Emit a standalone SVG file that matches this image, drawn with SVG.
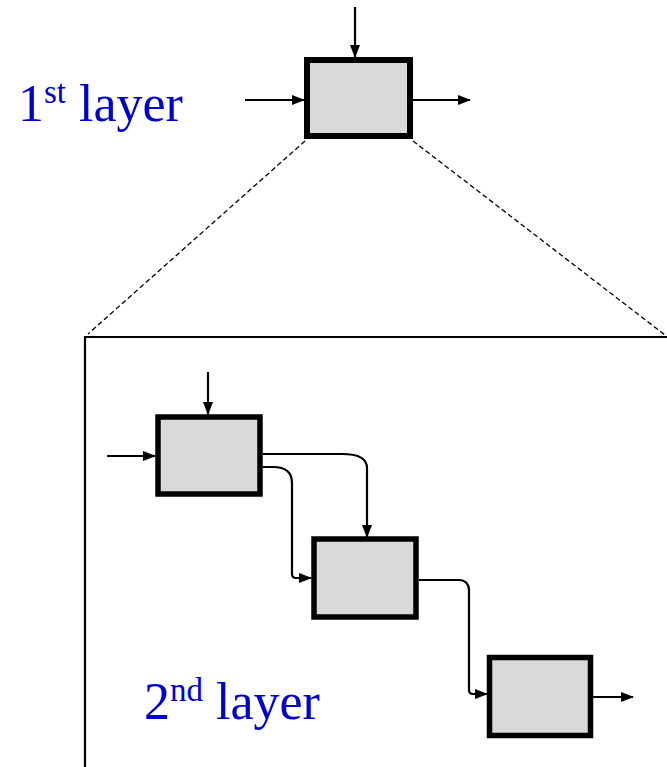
<svg xmlns="http://www.w3.org/2000/svg" width="667" height="767" viewBox="0 0 667 767">
<style>
.box{fill:#D9D9D9;stroke:#000;stroke-width:6}
.box2{fill:#D9D9D9;stroke:#000;stroke-width:5.5}
.ln{fill:none;stroke:#000;stroke-width:2.2}
.dash{fill:none;stroke:#000;stroke-width:1.3;stroke-dasharray:5,3}
.lbl{font-family:"Liberation Serif",serif;fill:#0000CC}
</style>
<defs>
<marker id="ah" markerUnits="userSpaceOnUse" markerWidth="13" markerHeight="10" refX="12" refY="5" orient="auto">
<path d="M0,0 L13,5 L0,10 z" fill="#000"/>
</marker>
</defs>
<g id="labels">
<text class="lbl" x="18" y="121" font-size="52">1<tspan font-size="33" dy="-18">st</tspan><tspan dy="18"> layer</tspan></text>
<text class="lbl" x="144" y="719" font-size="52">2<tspan font-size="33" dy="-18">nd</tspan><tspan dy="18"> layer</tspan></text>
</g>
<g id="frame">
<path class="ln" d="M85,767 V337 H667"/>
<line class="dash" x1="305" y1="141" x2="88" y2="334"/>
<line class="dash" x1="413" y1="141" x2="665" y2="335"/>
</g>
<g id="connectors">
<line class="ln" x1="355" y1="7" x2="355" y2="57" marker-end="url(#ah)"/>
<line class="ln" x1="245" y1="100" x2="304" y2="100" marker-end="url(#ah)"/>
<line class="ln" x1="413" y1="100" x2="470" y2="100" marker-end="url(#ah)"/>
<line class="ln" x1="208" y1="372" x2="208" y2="414" marker-end="url(#ah)"/>
<line class="ln" x1="107" y1="456" x2="155" y2="456" marker-end="url(#ah)"/>
<path class="ln" d="M263,454 H342 C358,454 367,458 367,468 V537" marker-end="url(#ah)"/>
<path class="ln" d="M263,467 H273 C285,467 292,472 292,483 V574 Q292,578 296,578 H311" marker-end="url(#ah)"/>
<path class="ln" d="M419,580 H459 C465,580 469,584 469,590 V690 Q469,694 473,694 H487" marker-end="url(#ah)"/>
<line class="ln" x1="593" y1="697" x2="633" y2="697" marker-end="url(#ah)"/>
</g>
<g id="top-box"><rect class="box" x="307" y="60" width="103" height="76"/></g>
<g id="box-1"><rect class="box2" x="158" y="417" width="102" height="77"/></g>
<g id="box-2"><rect class="box2" x="314" y="539" width="102" height="78"/></g>
<g id="box-3"><rect class="box2" x="489.5" y="657.5" width="101" height="78"/></g>
</svg>
